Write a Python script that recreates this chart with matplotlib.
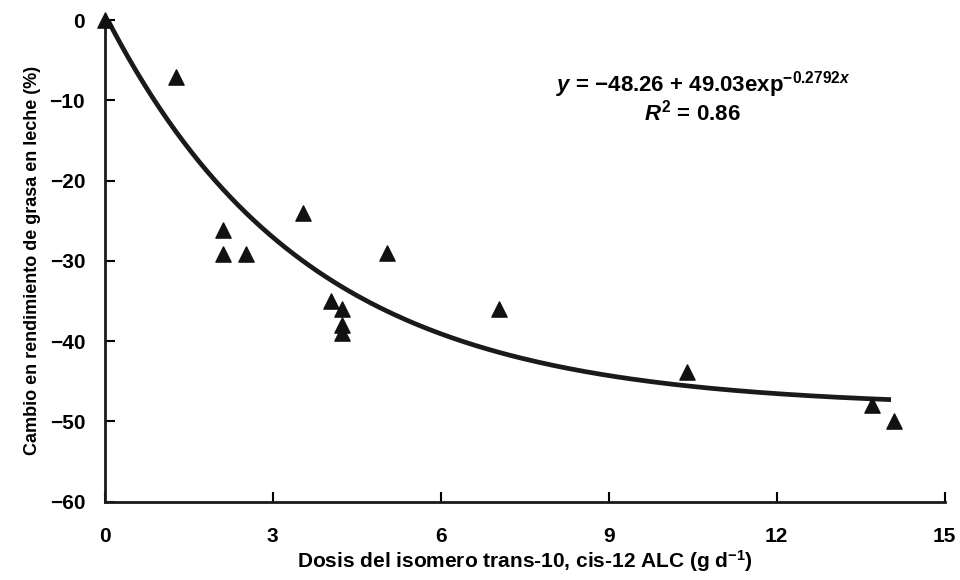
import numpy as np
import matplotlib.pyplot as plt

plt.rcParams['font.family'] = ['Liberation Sans', 'DejaVu Sans']
plt.rcParams['font.weight'] = 'bold'
plt.rcParams['mathtext.fontset'] = 'custom'
plt.rcParams['mathtext.rm'] = 'Liberation Sans:bold'
plt.rcParams['mathtext.it'] = 'Liberation Sans:bold:italic'
plt.rcParams['mathtext.bf'] = 'Liberation Sans:bold'

dose = [0, 1.27, 2.12, 2.12, 2.53, 3.55, 4.04, 4.24, 4.24, 4.24, 5.04, 7.05, 10.4, 13.7, 14.1]
change = [0, -7.1, -26.2, -29.2, -29.2, -24.0, -35.0, -36.0, -38.0, -39.0, -29.0, -36.0, -43.9, -48.0, -50.0]

# fitted model
a, b, k = -48.26, 49.03, -0.2792
fit_x = np.linspace(0, 14, 200)
fit_y = a + b * np.exp(k * fit_x)

xticks = [0, 3, 6, 9, 12, 15]
yticks = [0, -10, -20, -30, -40, -50, -60]

fig = plt.figure(figsize=(9.6, 5.8), dpi=100)
ax = fig.add_axes([0.109, 0.135, 0.875, 0.8305])

ax.plot(fit_x, fit_y, color='#1a1a1a', lw=3.4)
ax.scatter(dose, change, marker='^', s=120, color='#111111', zorder=3, clip_on=False)

ax.set_xlim(0, 15)
ax.set_ylim(-60, 0)
ax.set_xticks(xticks)
ax.set_yticks(yticks)
ax.set_yticklabels(['0' if v == 0 else '\u2212' + str(-v) for v in yticks])
ax.tick_params(direction='in', length=7, width=1.5, labelsize=15)
ax.tick_params(axis='y', pad=14)
ax.tick_params(axis='x', pad=18)
for side in ['top', 'right']:
    ax.spines[side].set_visible(False)
for side in ['left', 'bottom']:
    ax.spines[side].set_linewidth(2)
    ax.spines[side].set_color('#1a1a1a')

ax.set_xlabel('Dosis del isomero trans-10, cis-12 ALC (g d$^{\\mathbf{-1}}$)',
              fontsize=15, fontweight='bold', labelpad=2)
ax.set_ylabel('Cambio en rendimiento de grasa en leche (%)', fontsize=13,
              fontweight='bold', labelpad=6)

ax.text(10.7, -8.1, '$\\mathit{y}$ = \u221248.26 + 49.03exp$^{\\mathbf{\u22120.2792}\\mathit{x}}$',
        ha='center', va='center', fontsize=16, fontweight='bold')
ax.text(10.5, -11.5, '$\\mathit{R}^{\\mathbf{2}}$ = 0.86', ha='center', va='center',
        fontsize=16, fontweight='bold')

fig.savefig('out.png', dpi=100)
